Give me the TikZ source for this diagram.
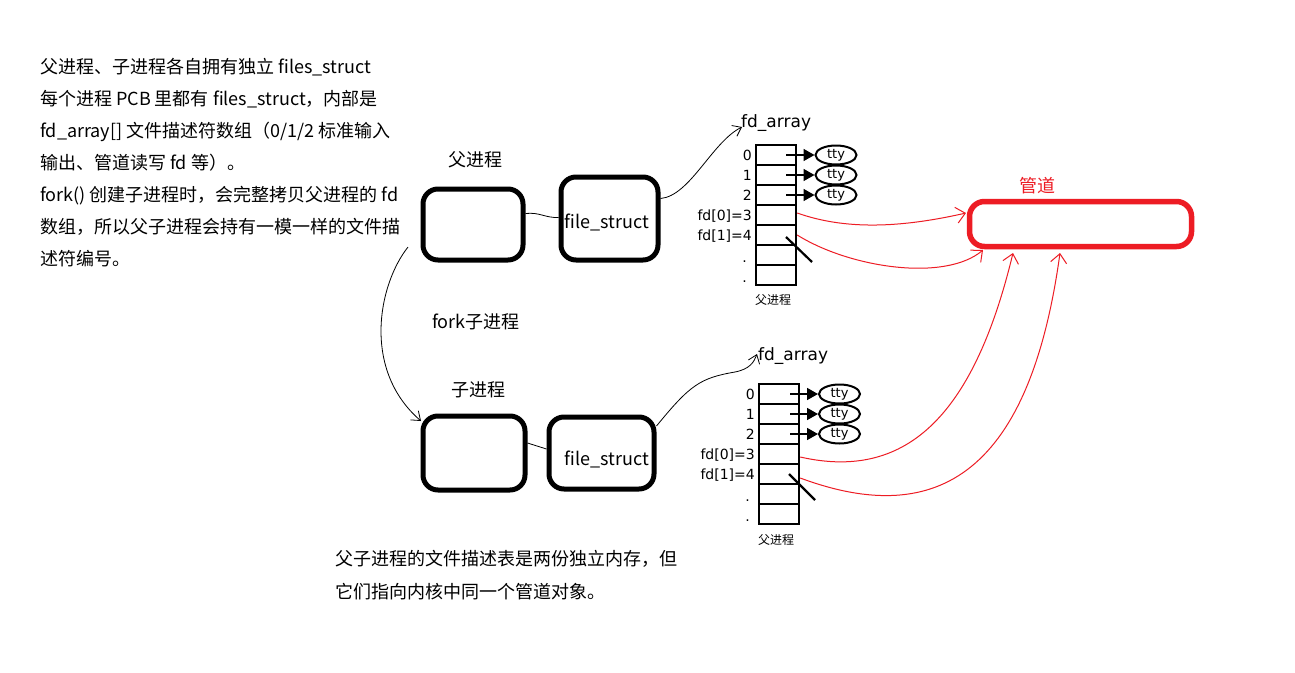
\documentclass[tikz,border=0pt]{standalone}
\usepackage{fontspec}
\setmainfont{Noto Sans CJK SC}
\newfontfamily\dejavu{DejaVu Sans}
\usetikzlibrary{arrows.meta,shapes.geometric}
\definecolor{pipered}{RGB}{237,28,36}
\begin{document}
\begin{tikzpicture}[x=1pt,y=-1pt,
  txt/.style={anchor=base west,inner sep=0pt,font=\fontsize{18}{20}\selectfont},
  lbl/.style={inner sep=0pt,font=\fontsize{18}{20}\selectfont},
  procbox/.style={draw,line width=5pt,rounded corners=15pt,inner sep=0pt},
  cell/.style={draw,line width=2.4pt,minimum width=40pt,minimum height=20pt,inner sep=0pt},
  idx/.style={anchor=base east,inner sep=0pt,font=\dejavu\fontsize{14}{16}\selectfont},
  arrlbl/.style={anchor=base west,inner sep=0pt,font=\dejavu\fontsize{17}{19}\selectfont},
  ttynode/.style={ellipse,draw,line width=2pt,minimum width=41pt,minimum height=19pt,inner sep=0pt,font=\dejavu\fontsize{13}{14}\selectfont},
  small/.style={inner sep=0pt,font=\fontsize{12}{14}\selectfont},
  ptr/.style={line width=1.6pt,-{Triangle[length=11pt,width=12pt]}},
  slash/.style={line width=2.2pt},
  hand/.style={line width=0.8pt,-{Straight Barb[length=8pt,width=12pt]}},
  redhand/.style={pipered,line width=1pt,-{Straight Barb[length=9pt,width=16pt]}}
]
\useasboundingbox[fill=white] (0,0) rectangle (1295,672);

% left explanatory text
\node[txt] (t1) at (40,73) {父进程、子进程各自拥有独立 files\_struct};
\node[txt] (t2) at (40,105) {每个进程 PCB 里都有 files\_struct，内部是};
\node[txt] (t3) at (40,137) {fd\_array[] 文件描述符数组（0/1/2 标准输入};
\node[txt] (t4) at (40,169) {输出、管道读写 fd 等）。};
\node[txt] (t5) at (40,201) {fork() 创建子进程时，会完整拷贝父进程的 fd};
\node[txt] (t6) at (40,233) {数组，所以父子进程会持有一模一样的文件描};
\node[txt] (t7) at (40,265) {述符编号。};

% bottom text
\node[txt] (b1) at (335,565) {父子进程的文件描述表是两份独立内存，但};
\node[txt] (b2) at (335,598) {它们指向内核中同一个管道对象。};

% labels
\node[lbl] (lpar) at (475,160) {父进程};
\node[lbl] (lfork) at (476,322) {fork子进程};
\node[lbl] (lchild) at (478,390) {子进程};

% process boxes
\node[procbox,minimum width=100pt,minimum height=71pt] (par) at (473,224.5) {};
\node[procbox,minimum width=97pt,minimum height=83pt] (fs1) at (609.5,218.5) {};
\node[lbl] (fs1t) at (607,222) {file\_struct};
\node[procbox,minimum width=102pt,minimum height=74pt] (child) at (474,453) {};
\node[procbox,minimum width=105pt,minimum height=72pt] (fs2) at (601.5,453) {};
\node[lbl] (fs2t) at (607,459) {file\_struct};

\draw[line width=0.8pt] ([yshift=11pt]par.east) .. controls (540,212) and (545,218) .. ([yshift=1pt]fs1.west);
\draw[line width=0.8pt] ([yshift=10pt]child.east) -- ([yshift=4pt]fs2.west);

% fork curve
\coordinate (fk0) at (408,247);
\coordinate (fk1) at (421,421);
\draw[hand] (fk0) .. controls (378,285) and (362,370) .. (fk1);

% ---------- parent fd table ----------
\node[arrlbl] (arr1) at (741,127) {fd\_array};
\foreach \i/\y in {0/155,1/175,2/195,3/215,4/235,5/255,6/275}{
  \node[cell] (p\i) at (776,\y) {};
}
\node[idx] (pl0) at (752,160) {0};
\node[idx] (pl1) at (752,180) {1};
\node[idx] (pl2) at (752,200) {2};
\node[idx] (pl3) at (752,220) {fd[0]=3};
\node[idx] (pl4) at (752,240) {fd[1]=4};
\node[idx] (pl5) at (747,262) {.};
\node[idx] (pl6) at (747,282) {.};
\node[small] (pcap) at (773,300) {父进程};
\foreach \i/\y in {0/155,1/175,2/195}{
  \node[ttynode] (pt\i) at (836,\y) {\raisebox{-1pt}{tty}};
  \draw[ptr] ([xshift=10pt]p\i.center) -- (pt\i.west);
}
\coordinate (ps0) at (786,237);
\coordinate (ps1) at (812,262);
\draw[slash] (ps0) -- (ps1);

\coordinate (a1) at (742,127);
\draw[hand] ([yshift=20pt]fs1.east) .. controls (690,196) and (712,142) .. (a1);

% ---------- child fd table ----------
\node[arrlbl] (arr2) at (758,360) {fd\_array};
\foreach \i/\y in {0/394,1/414,2/434,3/454,4/474,5/494,6/514}{
  \node[cell] (q\i) at (779,\y) {};
}
\node[idx] (ql0) at (755,399) {0};
\node[idx] (ql1) at (755,419) {1};
\node[idx] (ql2) at (755,439) {2};
\node[idx] (ql3) at (755,459) {fd[0]=3};
\node[idx] (ql4) at (755,479) {fd[1]=4};
\node[idx] (ql5) at (750,501) {.};
\node[idx] (ql6) at (750,521) {.};
\node[small] (qcap) at (776,540) {父进程};
\foreach \i/\y in {0/394,1/414,2/434}{
  \node[ttynode] (qt\i) at (839.5,\y) {\raisebox{-1pt}{tty}};
  \draw[ptr] ([xshift=11pt]q\i.center) -- (qt\i.west);
}
\coordinate (qs0) at (789,474);
\coordinate (qs1) at (815,500);
\draw[slash] (qs0) -- (qs1);

\coordinate (a2) at (757,354);
\draw[hand] ([yshift=27pt]fs2.east) .. controls (690,385) and (700,378) .. (735,372) .. controls (750,369) and (754,362) .. (a2);

% ---------- pipe ----------
\node[inner sep=0pt,text=pipered,font=\fontsize{18}{20}\selectfont] (pipet) at (1037,186) {管道};
\node[draw=pipered,line width=5.5pt,rounded corners=15pt,minimum width=222pt,minimum height=45pt,inner sep=0pt] (pipe) at (1080.5,224) {};

\coordinate (e1) at (966,213);
\coordinate (e2) at (983,250);
\coordinate (e3) at (1013,253);
\coordinate (e4) at (1060,253);
\draw[redhand] ([yshift=2pt]p3.east) .. controls (845,230) and (900,228) .. (e1);
\draw[redhand] (p4.east) .. controls (850,268) and (945,282) .. (e2);
\draw[redhand] ([yshift=-3pt]q3.east) .. controls (910,482) and (975,410) .. (e3);
\draw[redhand] ([yshift=-4pt]q4.east) .. controls (940,530) and (1030,470) .. (e4);
\end{tikzpicture}
\end{document}
